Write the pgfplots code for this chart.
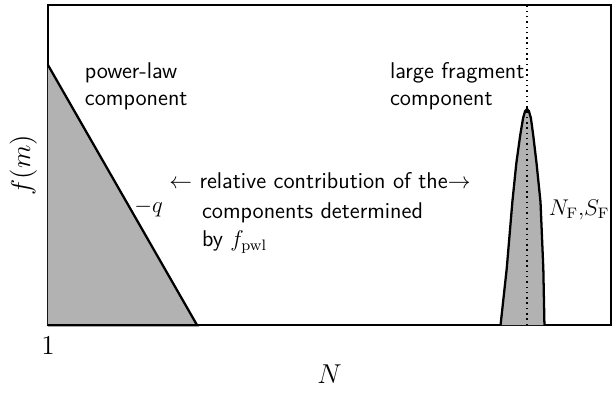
\documentclass[border=0pt]{standalone}
\usepackage{pgfplots}
\pgfplotsset{compat=1.18}
\begin{document}
\begin{tikzpicture}[lbl/.style={anchor=base west, inner xsep=0pt}]
\begin{axis}[
  scale only axis,
  width=297pt, height=169pt,
  xmin=0, xmax=100, ymin=0, ymax=100,
  axis line style={line width=1.2pt},
  xtick={0}, xticklabels={$1$},
  xticklabel style={anchor=center, yshift=-11pt, font=\Large},
  ytick=\empty,
  major tick length=0pt,
  font=\large\sffamily,
  clip=false,
]
% power-law component
\addplot[line width=1.2pt, fill=black!30] coordinates {
  (0,81.25) (26.5,0) (0,0)
};
% large fragment component
\addplot[line width=1.2pt, fill=black!30] coordinates {
  (80.4,0) (81.5,17.7) (82.5,38.5) (83.2,50.5) (83.9,59.4) (84.4,64.6)
  (84.75,66.8) (85.1,67.5) (85.45,66.8) (85.8,64.6)
  (86.2,59.4) (86.8,50.5) (87.5,38.5) (88.0,17.7) (88.2,0)
};
\addplot[dotted, thick] coordinates {(85.1,0) (85.1,100)};
\node[lbl] at (axis cs:6.5,77.1) {power-law};
\node[lbl] at (axis cs:6.5,68.75) {component};
\node[lbl] at (axis cs:60.7,77.1) {large fragment};
\node[lbl] at (axis cs:60.7,68.75) {component};
\node[lbl] at (axis cs:15.3,35.2) {$-q$};
\node[lbl] at (axis cs:21.5,42.7) {$\leftarrow$ relative contribution of the$\rightarrow$};
\node[lbl] at (axis cs:27.3,33.3) {components determined};
\node[lbl] at (axis cs:27.3,24.5) {by $f_{\mathrm{pwl}}$};
\node[lbl] at (axis cs:88.9,34.4) {$N_{\mathrm{F}}{,}S_{\mathrm{F}}$};
\end{axis}
\node[rotate=90, font=\Large] at ([xshift=-13pt]current axis.west) {$f(m)$};
\node[font=\Large] at ([yshift=-26pt]current axis.south) {$N$};
\path ([xshift=-25.3pt, yshift=-37pt]current axis.south west)
  rectangle ([xshift=0.6pt, yshift=2.6pt]current axis.north east);
\end{tikzpicture}
\end{document}
